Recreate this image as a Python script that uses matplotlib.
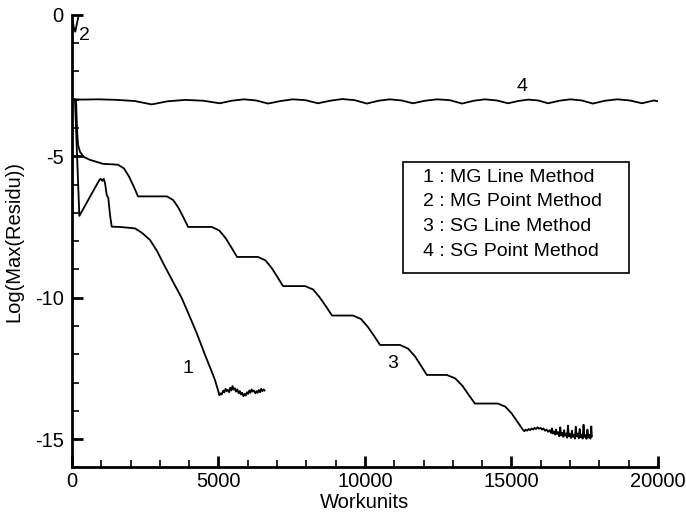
import matplotlib
matplotlib.use("Agg")
import matplotlib.pyplot as plt
from matplotlib.patches import Rectangle
from matplotlib.ticker import MultipleLocator

plt.rcParams['font.family'] = ['Liberation Sans', 'DejaVu Sans']
plt.rcParams['axes.unicode_minus'] = False

# ---- data (workunits, log10 of max residual) ----
# 1 : MG Line Method
mg_line_x = [0, 100, 250, 932, 978, 1034, 1082, 1126, 1184, 1239, 1297, 1355,
             1638, 2150, 2389, 2662, 2902, 3106, 3413, 3744, 3994, 4256, 4540,
             4745, 4881, 4992,
             5030, 5070, 5110, 5160, 5200, 5240, 5280, 5320, 5360, 5400, 5440,
             5480, 5520, 5560, 5600, 5640, 5690, 5730, 5770, 5810, 5850, 5890,
             5930, 5970, 6010, 6050, 6090, 6130, 6170, 6210, 6260, 6300, 6340,
             6380, 6420, 6460, 6500, 6540, 6570]
mg_line_y = [-3.0, -3.0, -7.11, -5.84, -5.80, -5.87, -5.80, -5.95, -6.37, -6.48,
             -7.08, -7.49,
             -7.50, -7.55, -7.71, -7.96, -8.35, -8.77, -9.37, -10.01, -10.61,
             -11.25, -12.02, -12.55, -12.91, -13.30,
             -13.45, -13.38, -13.42, -13.28, -13.35, -13.22, -13.30, -13.26,
             -13.34, -13.18, -13.28, -13.12, -13.25, -13.20, -13.32, -13.24,
             -13.38, -13.30, -13.42, -13.36, -13.48, -13.40, -13.46, -13.34,
             -13.40, -13.28, -13.36, -13.24, -13.32, -13.28, -13.38, -13.30,
             -13.36, -13.26, -13.34, -13.22, -13.30, -13.24, -13.28]

# 2 : MG Point Method
mg_point_x = [0, 60, 110, 160, 210, 260, 330]
mg_point_y = [-0.05, -0.45, -0.6, -0.35, -0.1, 0.1, 0.4]

# 3 : SG Line Method
sg_line_x = [0, 137, 171, 205, 273, 410, 614, 1060, 1569,
             1772, 1946, 2119, 2252, 3240,
             3454, 3637, 3821, 3963, 4778,
             5033, 5247, 5461, 5634, 6347,
             6602, 6816, 7030, 7203, 7957,
             8232, 8456, 8691, 8874, 9587,
             9862, 10097, 10331, 10514, 11197,
             11472, 11706, 11930, 12113, 12796,
             13081, 13326, 13560, 13754, 14538,
             14794, 15008, 15222, 15394,
             15445, 15486, 15537, 15588, 15639, 15690, 15740, 15791, 15842,
             15893, 15944, 15995, 16046, 16097, 16148, 16199, 16250, 16301,
             16352, 16382, 16413, 16454, 16494, 16525, 16556, 16596, 16637,
             16668, 16698, 16739, 16769, 16800, 16831, 16871, 16902, 16932,
             16963, 17004, 17034, 17065, 17095, 17136, 17167, 17197, 17228,
             17269, 17299, 17330, 17360, 17401, 17432, 17462, 17493, 17533,
             17564, 17595, 17625, 17666, 17697, 17727, 17747]
sg_line_y = [-3.0, -3.01, -4.07, -4.60, -4.85, -5.03, -5.13, -5.27, -5.30,
             -5.43, -5.72, -6.10, -6.42, -6.42,
             -6.55, -6.83, -7.20, -7.50, -7.50,
             -7.63, -7.90, -8.26, -8.56, -8.56,
             -8.68, -8.95, -9.30, -9.59, -9.59,
             -9.71, -9.99, -10.34, -10.63, -10.63,
             -10.75, -11.03, -11.38, -11.67, -11.67,
             -11.80, -12.07, -12.43, -12.73, -12.73,
             -12.85, -13.11, -13.46, -13.74, -13.74,
             -13.85, -14.09, -14.41, -14.67,
             -14.72, -14.66, -14.70, -14.64, -14.68, -14.62, -14.66, -14.60,
             -14.64, -14.58, -14.63, -14.60, -14.66, -14.62, -14.70, -14.66,
             -14.74, -14.68, -14.78, -14.62, -14.80, -14.72, -14.84, -14.66,
             -14.82, -14.75, -14.90, -14.58, -14.86, -14.78, -14.92, -14.68,
             -14.88, -14.80, -14.95, -14.52, -14.90, -14.82, -14.96, -14.70,
             -14.92, -14.84, -14.98, -14.56, -14.90, -14.80, -14.97, -14.64,
             -14.93, -14.84, -14.98, -14.49, -14.92, -14.86, -14.99, -14.66,
             -14.94, -14.85, -14.98, -14.55, -14.90]

# 4 : SG Point Method
sg_point_x = [0, 306, 917, 1528, 2139, 2720, 3260, 3871, 4483, 5043,
              5451, 5868, 6286, 6693, 7121, 7539, 7967, 8394,
              8812, 9230, 9648, 10066, 10463, 10850, 11248, 11635,
              12052, 12470, 12898, 13316, 13713, 14100, 14497, 14885,
              15231, 15567, 15913, 16250, 16637, 17014, 17401, 17778,
              18195, 18613, 19041, 19459, 19866, 20000]
sg_point_y = [-2.98, -3.0, -2.99, -3.01, -3.05, -3.17, -3.06, -3.01, -3.04, -3.13,
              -3.04, -2.99, -3.03, -3.14, -3.05, -2.99, -3.02, -3.13,
              -3.04, -2.98, -3.02, -3.14, -3.04, -2.99, -3.03, -3.13,
              -3.04, -2.99, -3.02, -3.14, -3.04, -2.99, -3.03, -3.13,
              -3.05, -3.00, -3.03, -3.13, -3.04, -2.99, -3.03, -3.14,
              -3.04, -2.99, -3.03, -3.13, -3.03, -3.06]

legend_lines = ['1 : MG Line Method', '2 : MG Point Method',
                '3 : SG Line Method', '4 : SG Point Method']

# ---- figure ----
fig = plt.figure(figsize=(6.86, 5.16), dpi=100)
ax = fig.add_axes([0.105, 0.094, 0.854, 0.8775])

lw = 1.3
ax.plot(mg_line_x, mg_line_y, color='black', lw=lw)
ax.plot(mg_point_x, mg_point_y, color='black', lw=lw)
ax.plot(sg_line_x, sg_line_y, color='black', lw=lw)
ax.plot(sg_point_x, sg_point_y, color='black', lw=lw)

ax.set_xlim(0, 20000)
ax.set_ylim(-16, 0)

for s in ['top', 'right']:
    ax.spines[s].set_visible(False)
for s in ['left', 'bottom']:
    ax.spines[s].set_linewidth(2.0)

ax.xaxis.set_major_locator(MultipleLocator(5000))
ax.xaxis.set_minor_locator(MultipleLocator(1000))
ax.yaxis.set_major_locator(MultipleLocator(5))
ax.yaxis.set_minor_locator(MultipleLocator(1))
ax.tick_params(which='major', direction='in', length=8, width=2.0,
               labelsize=14.5, pad=3)
ax.tick_params(which='minor', direction='in', length=5, width=1.2)
ax.tick_params(axis='y', which='major', pad=6)

ax.set_xlabel('Workunits', fontsize=14.5, labelpad=2)
ax.set_ylabel('Log(Max(Residu))', fontsize=14.5, labelpad=8)

# curve numbers
fs = 14
ax.text(440, -0.75, '2', fontsize=fs, ha='center', va='center')
ax.text(15360, -2.55, '4', fontsize=fs, ha='center', va='center')
ax.text(3960, -12.49, '1', fontsize=fs, ha='center', va='center')
ax.text(10945, -12.31, '3', fontsize=fs, ha='center', va='center')

# boxed key
ax.add_patch(Rectangle((11300, -9.13), 7710, 3.925, fill=False,
                       edgecolor='black', lw=1.2))
for i, t in enumerate(legend_lines):
    ax.text(11980, -5.74 - 0.875 * i, t, fontsize=fs, ha='left', va='center')

fig.savefig('out.png', dpi=100)
